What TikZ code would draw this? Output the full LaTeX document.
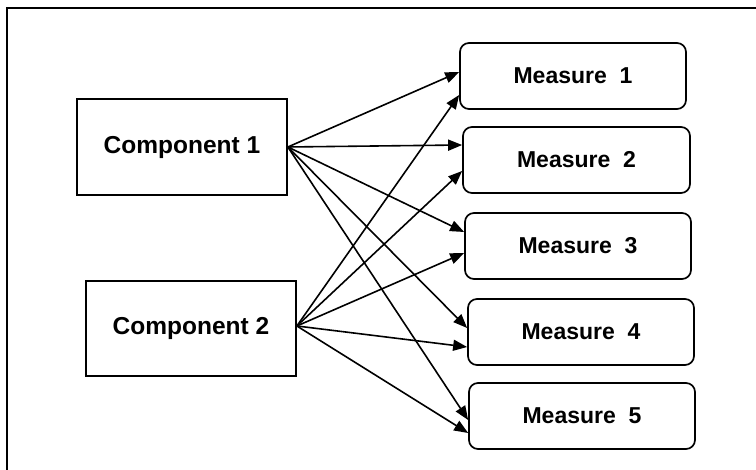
\documentclass[tikz,border=0pt]{standalone}
\usepackage{fontspec}
\setmainfont{Liberation Sans}
\usetikzlibrary{arrows.meta,calc}
\begin{document}
\begin{tikzpicture}[x=1pt,y=1pt,
  comp/.style={draw,line width=1.7pt,minimum width=210pt,minimum height=96pt,inner sep=0pt,font=\fontsize{24.5}{28}\selectfont\bfseries},
  meas/.style={draw,line width=1.7pt,rounded corners=9pt,minimum width=226pt,minimum height=66pt,inner sep=0pt,font=\fontsize{23}{27}\selectfont\bfseries},
  conn/.style={line width=1.6pt,-{Triangle[length=14pt,width=11pt]}}]
\useasboundingbox (0,0) rectangle (756,470);
\coordinate (fbl) at (7,0);
\coordinate (ftl) at (7,462);
\coordinate (ftr) at (756,462);
\draw[line width=1.7pt] (fbl) -- (ftl) -- (ftr);
\node[comp] (c1) at (182,323) {Component 1};
\node[comp,minimum height=95pt] (c2) at (191,141.5) {Component 2};
\node[meas] (m1) at (573,394) {Measure\ \ 1};
\node[meas,minimum width=227pt] (m2) at (576.5,310) {Measure\ \ 2};
\node[meas] (m3) at (578,224) {Measure\ \ 3};
\node[meas] (m4) at (581,138) {Measure\ \ 4};
\node[meas] (m5) at (582,54) {Measure\ \ 5};
\coordinate (s1) at ($(c1.east)+(0,0)$);
\coordinate (s2) at ($(c2.east)+(0,2.5)$);
\draw[conn] (s1) -- ($(m1.west)+(0,4)$);
\draw[conn] (s1) -- ($(m2.west)+(0,15)$);
\draw[conn] (s1) -- ($(m3.west)+(0,14)$);
\draw[conn] (s1) -- ($(m4.west)+(0,4)$);
\draw[conn] (s1) -- ($(m5.west)+(0,-4)$);
\draw[conn] (s2) -- ($(m1.west)+(0,-19)$);
\draw[conn] (s2) -- ($(m2.west)+(0,-11)$);
\draw[conn] (s2) -- ($(m3.west)+(0,-7)$);
\draw[conn] (s2) -- ($(m4.west)+(0,-15)$);
\draw[conn] (s2) -- ($(m5.west)+(0,-17)$);
\end{tikzpicture}
\end{document}
